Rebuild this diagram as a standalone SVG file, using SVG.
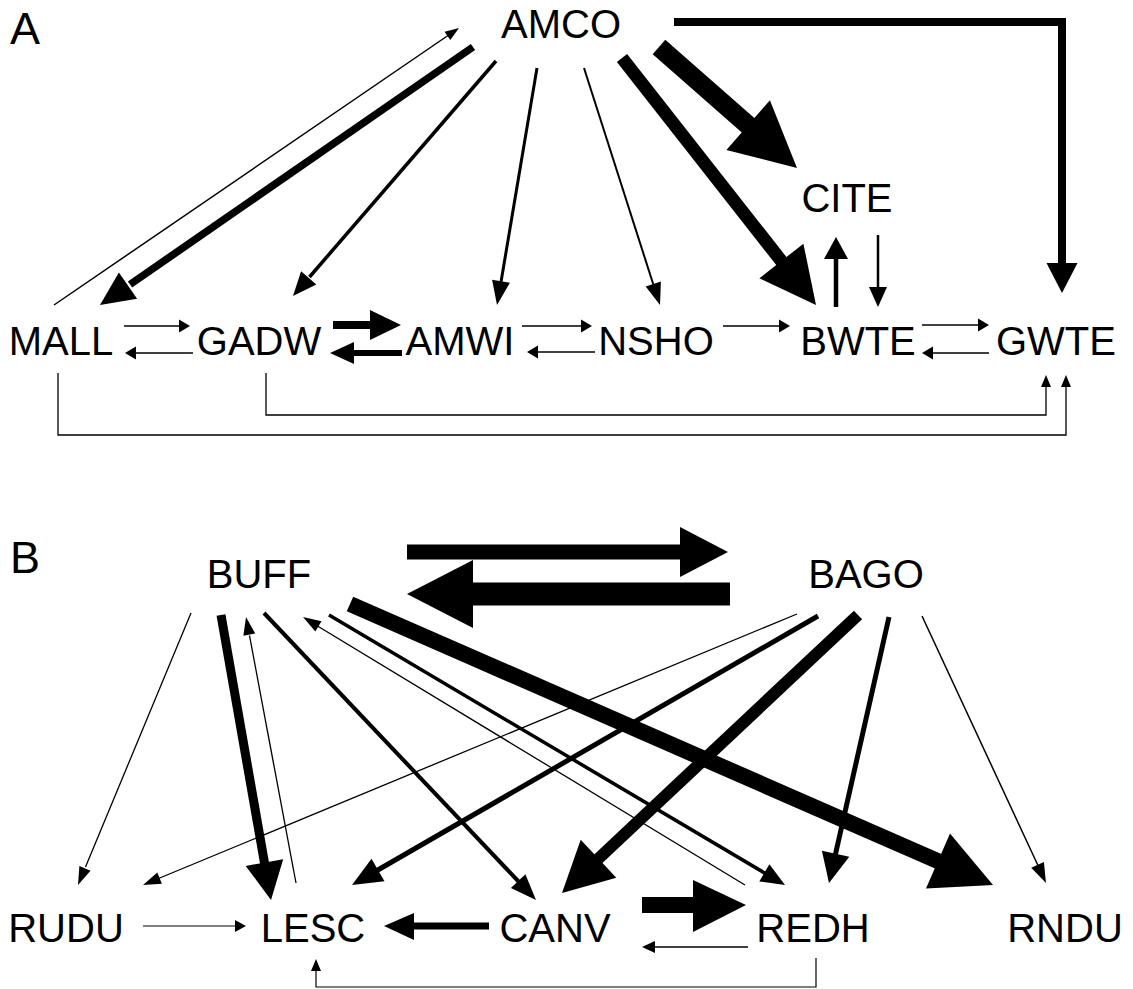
<svg xmlns="http://www.w3.org/2000/svg" width="1133" height="989" viewBox="0 0 1133 989">
<style>
text{font-family:"Liberation Sans",Arial,Helvetica,sans-serif;fill:#000;}
.lbl{font-size:40px;text-anchor:middle;}
.pan{font-size:45px;}
.c line,.c path{stroke:#000;fill:none;stroke-linecap:butt;stroke-linejoin:miter;}
.c polygon{fill:#000;stroke:none;}
</style>
<rect width="1133" height="989" fill="#fff"/>
<text class="pan" x="10" y="44">A</text>
<text class="pan" x="10" y="573">B</text>
<g id="AMCO"><text class="lbl" x="561" y="38">AMCO</text></g>
<g id="CITE"><text class="lbl" x="847" y="212">CITE</text></g>
<g id="MALL"><text class="lbl" x="61" y="355">MALL</text></g>
<g id="GADW"><text class="lbl" x="259" y="355">GADW</text></g>
<g id="AMWI"><text class="lbl" x="460" y="355">AMWI</text></g>
<g id="NSHO"><text class="lbl" x="656" y="355">NSHO</text></g>
<g id="BWTE"><text class="lbl" x="858" y="355">BWTE</text></g>
<g id="GWTE"><text class="lbl" x="1056" y="355">GWTE</text></g>
<g id="BUFF"><text class="lbl" x="259" y="588">BUFF</text></g>
<g id="BAGO"><text class="lbl" x="866" y="588">BAGO</text></g>
<g id="RUDU"><text class="lbl" x="66" y="942">RUDU</text></g>
<g id="LESC"><text class="lbl" x="313" y="942">LESC</text></g>
<g id="CANV"><text class="lbl" x="555" y="942">CANV</text></g>
<g id="REDH"><text class="lbl" x="813" y="942">REDH</text></g>
<g id="RNDU"><text class="lbl" x="1065" y="942">RNDU</text></g>
<g id="connectors" class="c">
<!-- Panel A -->
<line x1="54" y1="305" x2="448" y2="35.5" stroke-width="1.5"/><polygon points="459,28 450.3,40 444.6,31.8"/>
<line x1="473" y1="47" x2="130" y2="284.5" stroke-width="7.5"/><polygon points="100,305 118.9,272.5 137.1,298.8"/>
<line x1="496" y1="61" x2="309.5" y2="277" stroke-width="3.5"/><polygon points="293,296 301.1,271.3 316.3,284.4"/>
<line x1="537" y1="68" x2="501" y2="282" stroke-width="3"/><polygon points="497,305 492.1,279.8 509.9,282.8"/>
<line x1="584" y1="68" x2="653.5" y2="285" stroke-width="2"/><polygon points="660,305 645.7,286.5 660.9,281.6"/>
<line x1="622" y1="58" x2="782.5" y2="262.5" stroke-width="13"/><polygon points="816,305 759.4,278.3 803.4,243.7"/>
<line x1="659" y1="47" x2="749.5" y2="126.5" stroke-width="19"/><polygon points="797,168 726.4,150 769.9,100.3"/>
<path d="M674,22 H1062 V264" stroke-width="8"/><polygon points="1062,293 1046.5,263 1077.5,263"/>
<line x1="836" y1="307" x2="836" y2="258" stroke-width="4.5"/><polygon points="836,237 824,259 848,259"/>
<line x1="878" y1="235" x2="878" y2="288" stroke-width="2.5"/><polygon points="878,307 869,287 887,287"/>
<line x1="124" y1="326" x2="180" y2="326" stroke-width="1.5"/><polygon points="190,326 179,319.5 179,332.5"/>
<line x1="193" y1="353" x2="135" y2="353" stroke-width="1.5"/><polygon points="125,353 136,346.5 136,359.5"/>
<line x1="333" y1="325" x2="372" y2="325" stroke-width="8"/><polygon points="401,325 370,310 370,340"/>
<line x1="402" y1="353" x2="353" y2="353" stroke-width="6"/><polygon points="330,353 354,342 354,364"/>
<line x1="522" y1="326" x2="582" y2="326" stroke-width="1.5"/><polygon points="592,326 581,319.5 581,332.5"/>
<line x1="595" y1="352" x2="537" y2="352" stroke-width="1.5"/><polygon points="527,352 538,345.5 538,358.5"/>
<line x1="723" y1="326" x2="780" y2="326" stroke-width="1.5"/><polygon points="790,326 779,319.5 779,332.5"/>
<line x1="922" y1="325" x2="979" y2="325" stroke-width="1.5"/><polygon points="989,325 978,318.5 978,331.5"/>
<line x1="989" y1="353" x2="932" y2="353" stroke-width="1.5"/><polygon points="922,353 933,346.5 933,359.5"/>
<path d="M266,373 V415 H1046 V386" stroke-width="1.3"/><polygon points="1046,375 1041,387 1051,387"/>
<path d="M58,373 V435 H1066 V386" stroke-width="1.3"/><polygon points="1066,375 1061,387 1071,387"/>
<!-- Panel B -->
<line x1="407" y1="552" x2="681" y2="552" stroke-width="15"/><polygon points="728,552 680,527 680,577"/>
<line x1="730" y1="594" x2="472" y2="594" stroke-width="23"/><polygon points="407,594 473,560 473,628"/>
<line x1="191" y1="613" x2="85.5" y2="867" stroke-width="1.3"/><polygon points="78,885 79.4,866.1 90.5,870.7"/>
<line x1="221" y1="615" x2="264.6" y2="863.5" stroke-width="9"/><polygon points="271,900 245.7,865.9 283.2,859.3"/>
<line x1="296" y1="883" x2="249.5" y2="635.5" stroke-width="1.3"/><polygon points="246,617 255.2,633.6 243.4,635.8"/>
<line x1="264" y1="613" x2="519" y2="882" stroke-width="4"/><polygon points="536,900 510.9,888 525.4,874.2"/>
<line x1="745" y1="885" x2="317.5" y2="626" stroke-width="1.3"/><polygon points="303,617 321.5,621.2 315.3,631.5"/>
<line x1="329" y1="615" x2="765.5" y2="873.5" stroke-width="3.5"/><polygon points="785,885 759.3,881.4 769.4,864.2"/>
<line x1="350" y1="604" x2="940" y2="862" stroke-width="16"/><polygon points="993,885 926,888.5 950,833.5"/>
<line x1="797" y1="614" x2="158.5" y2="878.5" stroke-width="1.3"/><polygon points="143,885 157.3,872.6 161.9,883.7"/>
<line x1="818" y1="616" x2="377" y2="870.5" stroke-width="5"/><polygon points="352,885 371.5,858.7 384.5,881.3"/>
<line x1="858" y1="615" x2="597.5" y2="859.5" stroke-width="12"/><polygon points="562,893 580.7,839.8 616.3,877.7"/>
<line x1="889" y1="617" x2="835.4" y2="854.5" stroke-width="5"/><polygon points="829,883 821.9,850.7 849.3,856.8"/>
<line x1="922" y1="616" x2="1038" y2="865.5" stroke-width="1.5"/><polygon points="1046,883 1031.2,867.8 1043.9,861.9"/>
<line x1="143" y1="926" x2="236" y2="926" stroke-width="1.2"/><polygon points="246,926 235,920 235,932"/>
<line x1="489" y1="926" x2="413" y2="926" stroke-width="7"/><polygon points="384,926 414,913 414,940"/>
<line x1="642" y1="905" x2="694" y2="905" stroke-width="16"/><polygon points="746,905 693,880 693,932"/>
<line x1="748" y1="947" x2="654" y2="947" stroke-width="1.5"/><polygon points="642,947 655,941 655,953"/>
<path d="M816,958 V987 H316 V970" stroke-width="1.2"/><polygon points="316,959 311,971 321,971"/>
</g>
</svg>
